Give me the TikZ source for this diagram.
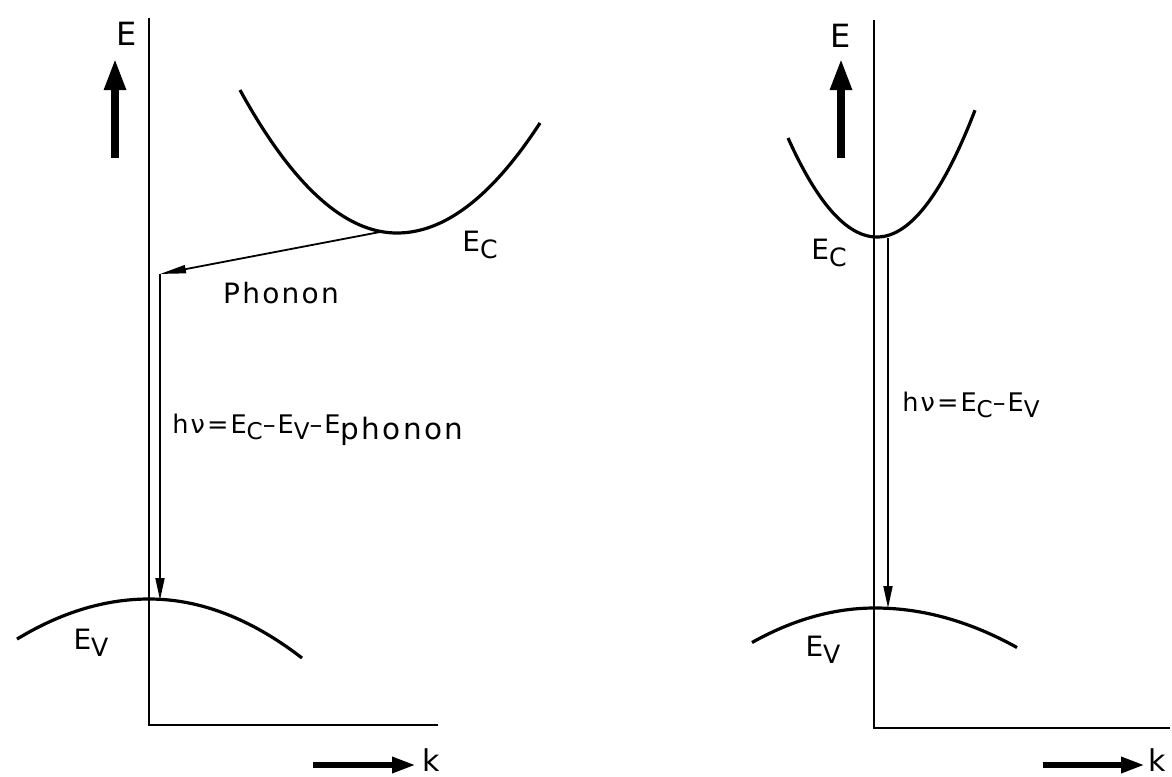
\documentclass[tikz,border=0pt]{standalone}
\usepackage{fontspec}
\setmainfont{DejaVu Sans}[LetterSpace=8]
\usetikzlibrary{arrows.meta}
\newcommand\lsub[1]{\raisebox{-0.45ex}{\scalebox{0.9}{#1}}}
\newcommand\psub[1]{\raisebox{-0.45ex}{\scalebox{1.15}{#1}}}
\begin{document}
\begin{tikzpicture}[x=0.5pt,y=-0.5pt,
  axis/.style={line width=1pt},
  band/.style={line width=1.6pt},
  trans/.style={line width=0.9pt,-{Triangle[length=11pt,width=4.5pt]}},
  bigarrow/.style={line width=4pt,-{Triangle[length=16pt,width=10pt]}},
  karrow/.style={line width=3pt,-{Triangle[length=12pt,width=7.5pt]}},
  lbl/.style={inner sep=0pt,font=\fontsize{14}{16}\selectfont},
  biglbl/.style={inner sep=0pt,font=\fontsize{16}{18}\selectfont},
  klbl/.style={inner sep=0pt,font=\fontsize{15}{17}\selectfont},
  formula/.style={inner sep=0pt,anchor=base west,font=\fontsize{12.8}{15}\selectfont}]
\useasboundingbox (0,0) rectangle (1172,776);
% ---------------- left panel ----------------
\coordinate (Ltop) at (149,18);
\coordinate (LO) at (149,725);
\coordinate (Lend) at (438,725);
\draw[axis] (Ltop) -- (LO) -- (Lend);
\node[biglbl] (LE) at (127,34) {E};
\coordinate (LEa) at (115,158);
\coordinate (LEb) at (115,58);
\draw[bigarrow] (LEa) -- (LEb);
\draw[band] plot[domain=240:397,samples=50] (\x,{233-58*((\x-397)/100)*((\x-397)/100)})
  -- plot[domain=397:540,samples=50] (\x,{233-53.8*((\x-397)/100)*((\x-397)/100)});
\draw[band] plot[domain=17:149,samples=50] (\x,{599+23*((\x-149)/100)*((\x-149)/100)})
  -- plot[domain=149:302,samples=50] (\x,{599+25.2*((\x-149)/100)*((\x-149)/100)});
\coordinate (LCmin) at (380,232);
\coordinate (Lkink) at (160,274);
\coordinate (LVhit) at (160,600);
\draw[line width=0.9pt,-{Triangle[length=13pt,width=4pt]}] (LCmin) -- (Lkink);
\draw[trans] (Lkink) -- (LVhit);
\node[lbl] (LEc) at (480,245) {E\lsub{C}};
\node[lbl] (LEv) at (91,643) {E\lsub{V}};
\node[lbl] (Lphonon) at (281,293) {Phonon};
\node[formula] (Lhv) at (172,433) {hν=E\lsub{C}–E\lsub{V}–E\psub{phonon}};
\coordinate (Lka) at (313,765);
\coordinate (Lkb) at (416,765);
\draw[karrow] (Lka) -- (Lkb);
\node[klbl] (Lk) at (431,760) {k};
% ---------------- right panel ----------------
\coordinate (Rtop) at (874,20);
\coordinate (RO) at (874,728);
\coordinate (Rend) at (1170,728);
\draw[axis] (Rtop) -- (RO) -- (Rend);
\node[biglbl] (RE) at (841,36) {E};
\coordinate (REa) at (841,158);
\coordinate (REb) at (841,58);
\draw[bigarrow] (REa) -- (REb);
\draw[band] plot[domain=788:877,samples=50] (\x,{237-125*((\x-877)/100)*((\x-877)/100)})
  -- plot[domain=877:975,samples=50] (\x,{237-132*((\x-877)/100)*((\x-877)/100)});
\draw[band] plot[domain=752:875,samples=50] (\x,{608+22.8*((\x-875)/100)*((\x-875)/100)})
  -- plot[domain=875:1017,samples=50] (\x,{608+19.6*((\x-875)/100)*((\x-875)/100)});
\coordinate (RCmin) at (888,238);
\coordinate (RVhit) at (888,608);
\draw[trans] (RCmin) -- (RVhit);
\node[lbl] (REc) at (829,253) {E\lsub{C}};
\node[lbl] (REv) at (823,650) {E\lsub{V}};
\node[formula] (Rhv) at (902,411) {hν=E\lsub{C}–E\lsub{V}};
\coordinate (Rka) at (1043,765);
\coordinate (Rkb) at (1145,765);
\draw[karrow] (Rka) -- (Rkb);
\node[klbl] (Rk) at (1157,760) {k};
\end{tikzpicture}
\end{document}
